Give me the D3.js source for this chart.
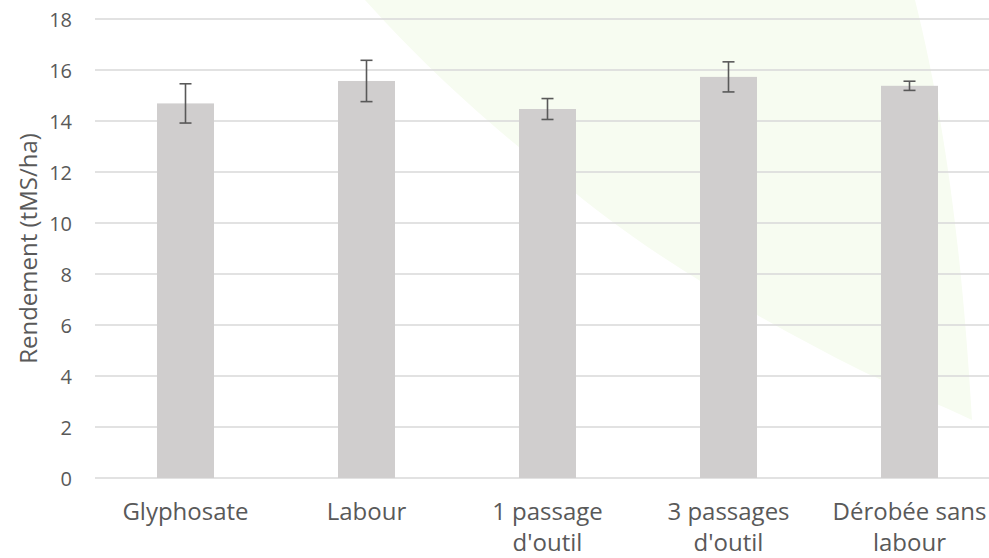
<!DOCTYPE html>
<html>
<head>
<meta charset="utf-8">
<script src="https://cdn.jsdelivr.net/npm/d3@7"></script>
<style>
  html, body { margin: 0; padding: 0; background: #ffffff; }
  svg { display: block; font-family: "Open Sans", sans-serif; }
</style>
</head>
<body>
<svg id="chart" width="989" height="558"></svg>
<script>
// ---- data ----
const categories = [
  ["Glyphosate"],
  ["Labour"],
  ["1 passage", "d'outil"],
  ["3 passages", "d'outil"],
  ["Dérobée sans", "labour"]
];
const yields = [14.69, 15.57, 14.47, 15.73, 15.38];
const errors = [0.77, 0.81, 0.41, 0.59, 0.18];
const yTicks = [0, 2, 4, 6, 8, 10, 12, 14, 16, 18];
const yTitle = "Rendement (tMS/ha)";

// ---- layout ----
const W = 989, H = 558;
const plot = { left: 95, right: 1000, top: 19, bottom: 478 };
const textColor = "#595959";

const svg = d3.select("#chart");

// faint decorative watermark in background
svg.append("path")
  .attr("d", "M365,0 L915,0 C945,120 962,250 972,420 C930,400 880,380 860,370 C760,320 640,250 560,180 C470,110 410,50 365,0 Z")
  .attr("fill", "#f7fcf1");

const x = d3.scaleBand()
  .domain(d3.range(categories.length))
  .range([plot.left, plot.right])
  .paddingInner(0.685)
  .paddingOuter(0.3425);

const y = d3.scaleLinear()
  .domain([0, 18])
  .range([plot.bottom, plot.top]);

// gridlines
svg.append("g")
  .selectAll("line")
  .data(yTicks)
  .join("line")
  .attr("x1", plot.left)
  .attr("x2", W)
  .attr("y1", d => y(d))
  .attr("y2", d => y(d))
  .attr("stroke", "#d9d9d9")
  .attr("stroke-width", 1.4);

// y tick labels
svg.append("g")
  .selectAll("text")
  .data(yTicks)
  .join("text")
  .attr("x", 72)
  .attr("y", d => y(d))
  .attr("text-anchor", "end")
  .attr("dominant-baseline", "central")
  .attr("font-size", 20)
  .attr("fill", textColor)
  .text(d => d);

// y axis title
svg.append("text")
  .attr("transform", `translate(27,${(plot.top + plot.bottom) / 2}) rotate(-90)`)
  .attr("text-anchor", "middle")
  .attr("dominant-baseline", "central")
  .attr("font-size", 24)
  .attr("fill", textColor)
  .text(yTitle);

// bars
svg.append("g")
  .selectAll("rect")
  .data(yields)
  .join("rect")
  .attr("x", (d, i) => x(i))
  .attr("width", x.bandwidth())
  .attr("y", d => y(d))
  .attr("height", d => y(0) - y(d))
  .attr("fill", "#d0cece");

// error bars
const eg = svg.append("g")
  .attr("stroke", "#595959")
  .attr("stroke-width", 1.6)
  .attr("fill", "none");
const cap = 6;
yields.forEach((v, i) => {
  const cx = x(i) + x.bandwidth() / 2;
  const hi = y(v + errors[i]);
  const lo = y(v - errors[i]);
  eg.append("line").attr("x1", cx).attr("x2", cx).attr("y1", hi).attr("y2", lo);
  eg.append("line").attr("x1", cx - cap).attr("x2", cx + cap).attr("y1", hi).attr("y2", hi);
  eg.append("line").attr("x1", cx - cap).attr("x2", cx + cap).attr("y1", lo).attr("y2", lo);
});

// category labels
const lg = svg.append("g");
categories.forEach((lines, i) => {
  const cx = x(i) + x.bandwidth() / 2;
  lines.forEach((t, j) => {
    lg.append("text")
      .attr("x", cx)
      .attr("y", 520 + j * 31)
      .attr("text-anchor", "middle")
      .attr("font-size", 24)
      .attr("fill", textColor)
      .text(t);
  });
});
</script>
</body>
</html>
